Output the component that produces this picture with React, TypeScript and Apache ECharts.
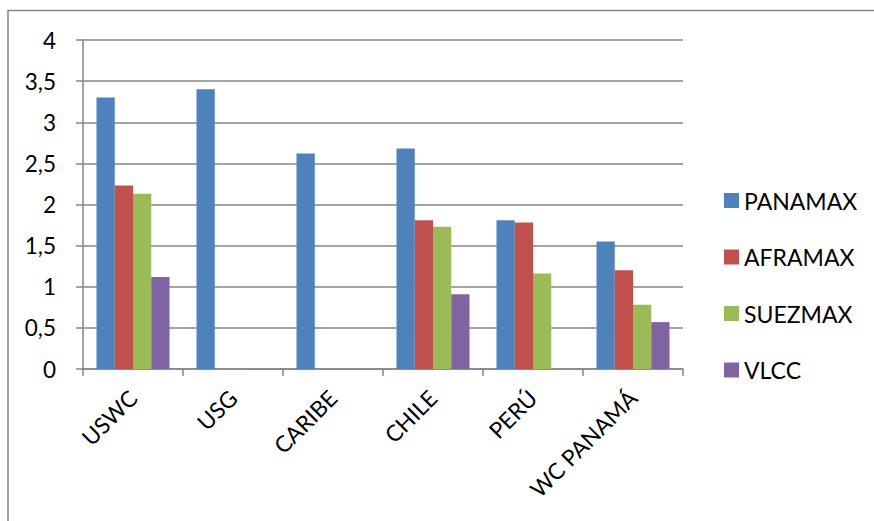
import React, { useEffect, useRef } from "react";
import * as echarts from "echarts";

const categories = ["USWC", "USG", "CARIBE", "CHILE", "PERÚ", "WC PANAMÁ"];
const seriesNames = ["PANAMAX", "AFRAMAX", "SUEZMAX", "VLCC"];
const panamax = [3.3, 3.4, 2.62, 2.68, 1.81, 1.55];
const aframax = [2.23, 0, 0, 1.81, 1.78, 1.2];
const suezmax = [2.13, 0, 0, 1.73, 1.16, 0.78];
const vlcc = [1.12, 0, 0, 0.91, 0, 0.57];
const colors = ["#4F81BD", "#C0504D", "#9BBB59", "#8064A2"];

export default function App() {
  const ref = useRef<HTMLDivElement>(null);
  useEffect(() => {
    if (!ref.current) return;
    const chart = echarts.init(ref.current, undefined, { renderer: "svg" });
    const values = [panamax, aframax, suezmax, vlcc];
    const font = "Lato, 'Open Sans', sans-serif";
    chart.setOption({
      animation: false,
      backgroundColor: "#ffffff",
      textStyle: { fontFamily: font, color: "#000" },
      graphic: [
        {
          type: "rect",
          shape: { x: 8, y: 10.5, width: 900, height: 600 },
          style: { fill: "none", stroke: "#868686", lineWidth: 1.5 },
          silent: true,
        },
      ],
      grid: { left: 83, right: 191, top: 40, bottom: 152, containLabel: false },
      legend: {
        orient: "vertical",
        left: 724,
        top: 189,
        padding: 0,
        itemWidth: 15,
        itemHeight: 15,
        itemGap: 33.5,
        icon: "rect",
        textStyle: { fontFamily: font, fontSize: 23, lineHeight: 15, color: "#000" },
        data: seriesNames,
      },
      xAxis: {
        type: "category",
        data: categories,
        axisLine: { lineStyle: { color: "#868686", width: 1.5 } },
        axisTick: { show: true, length: 7, lineStyle: { color: "#868686", width: 1.5 } },
        axisLabel: {
          rotate: 45,
          interval: 0,
          margin: 25,
          fontFamily: font,
          fontSize: 22.5,
          color: "#000",
        },
      },
      yAxis: {
        type: "value",
        min: 0,
        max: 4,
        interval: 0.5,
        axisLine: { show: true, lineStyle: { color: "#868686", width: 1.5 } },
        axisTick: { show: true, length: 7, lineStyle: { color: "#868686", width: 1.5 } },
        splitLine: { lineStyle: { color: "#868686", width: 1.5 } },
        axisLabel: {
          margin: 27,
          fontFamily: font,
          fontSize: 22.5,
          color: "#000",
          formatter: (v: number) => String(v).replace(".", ","),
        },
      },
      series: seriesNames.map((name, i) => ({
        name,
        type: "bar",
        data: values[i],
        barGap: "0%",
        barCategoryGap: "27%",
        itemStyle: { color: colors[i] },
      })),
    });
    return () => chart.dispose();
  }, []);
  return (
    <div
      ref={ref}
      style={{ position: "fixed", left: 0, top: 0, width: 874, height: 521 }}
    />
  );
}
